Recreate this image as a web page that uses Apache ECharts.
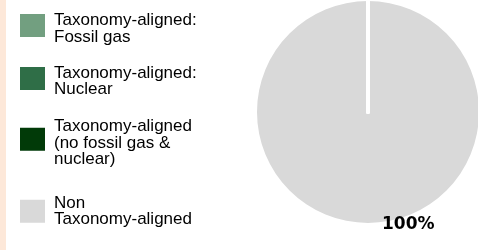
<!DOCTYPE html>
<html>
<head>
<meta charset="UTF-8">
<title>Taxonomy alignment</title>
<script src="https://cdn.jsdelivr.net/npm/echarts@6/dist/echarts.min.js"></script>
<style>
  html, body { margin: 0; padding: 0; background: #fff; }
  #container { width: 478px; height: 250px; }
</style>
</head>
<body>
<div id="container"></div>
<script>
// chart data
var categories = ['Taxonomy-aligned:\nFossil gas', 'Taxonomy-aligned:\nNuclear', 'Taxonomy-aligned\n(no fossil gas &\nnuclear)', 'Non\nTaxonomy-aligned'];
var shares = [0, 0, 0, 100];
var colors = ['#729f80', '#2f6e47', '#013a08', '#d9d9d9'];

var dom = document.getElementById('container');
var myChart = echarts.init(dom);

// non-aligned first, so the zero slices are drawn over it (white seam at the top)
var order = [3, 0, 1, 2];
var pieData = order.map(function (i) {
  var zero = shares[i] === 0;
  return {
    name: categories[i],
    value: shares[i],
    itemStyle: { color: colors[i], borderColor: '#fff', borderWidth: zero ? 4 : 0 },
    label: { show: !zero }
  };
});

// one legend per entry so each row sits where it should;
// an empty spacer line on top pushes the text a little below the square's centre
var legendTops = [8.5, 61.5, 114, 194.5];
var spacer = [7, 6, 8, 0];
var legends = categories.map(function (name, i) {
  return {
    orient: 'vertical',
    left: 20,
    top: legendTops[i],
    padding: 0,
    itemWidth: 25,
    itemHeight: 23,
    selectedMode: false,
    icon: 'rect',
    data: [name],
    itemStyle: { borderWidth: 0 },
    formatter: function (n) {
      var lines = n.split('\n').map(function (s) { return '{t|' + s + '}'; });
      if (spacer[i]) lines.unshift('{s| }');
      return lines.join('\n');
    },
    textStyle: {
      padding: [0, 0, 0, 4],
      rich: {
        t: { fontFamily: 'Liberation Sans, Arial, sans-serif', fontSize: 17, lineHeight: 16.5, color: '#000' },
        s: { fontSize: 1, lineHeight: spacer[i] }
      }
    }
  };
});

var option = {
  animation: false,
  graphic: [{
    type: 'rect',
    left: 0, top: 0,
    shape: { width: 6, height: 250 },
    style: { fill: '#fde8d9' },
    silent: true
  }],
  legend: legends,
  series: [{
    type: 'pie',
    center: [368, 112],
    radius: 111,
    startAngle: 90.01,   // nudge so the label falls on the right of the bottom
    clockwise: true,
    avoidLabelOverlap: false,
    data: pieData,
    label: {
      position: 'outside',
      formatter: function (p) { return Math.round(p.percent) + '%'; },
      fontFamily: 'DejaVu Sans, sans-serif',
      fontWeight: 'bold',
      fontSize: 17,
      color: '#000'
    },
    labelLine: { show: false, length: 1.5, length2: 9 },
    emphasis: { disabled: true }
  }]
};

myChart.setOption(option, true);
</script>
</body>
</html>
